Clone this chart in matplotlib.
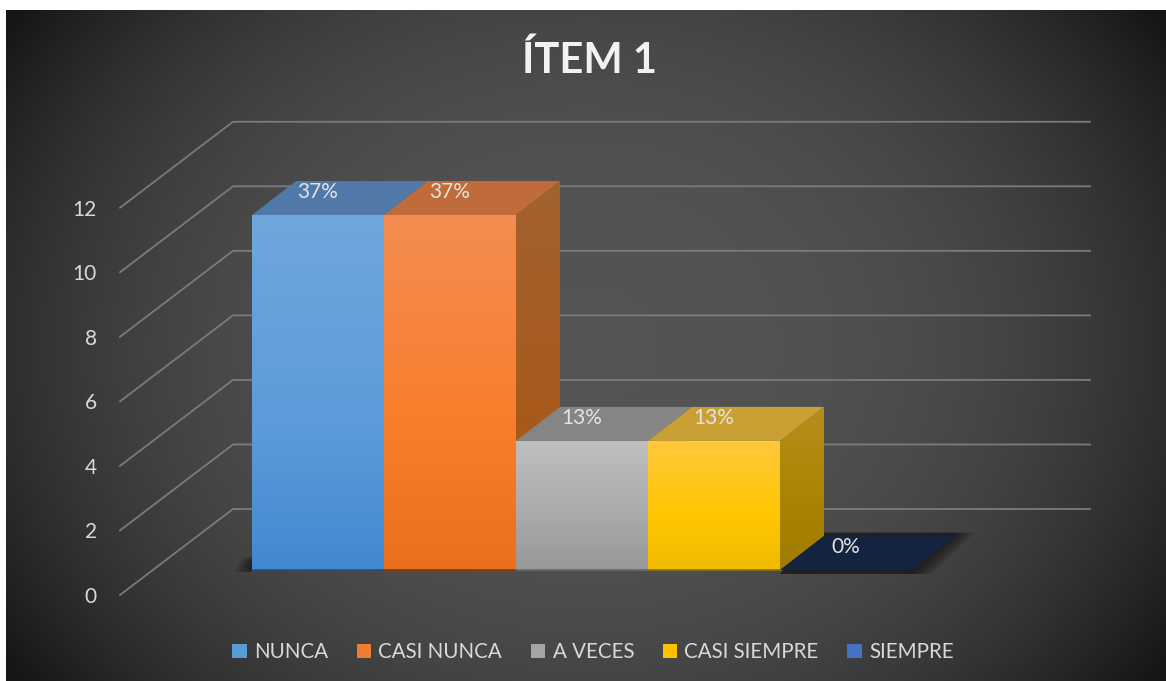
import numpy as np
import matplotlib
matplotlib.use("Agg")
import matplotlib.pyplot as plt
from matplotlib.colors import to_rgb
from matplotlib.patches import Patch, Polygon

categorias = ["NUNCA", "CASI NUNCA", "A VECES", "CASI SIEMPRE", "SIEMPRE"]
valores = [11, 11, 4, 4, 0]
porcentajes = ["37%", "37%", "13%", "13%", "0%"]
ticks_y = [0, 2, 4, 6, 8, 10, 12]

colores_leyenda = ["#5b9bd5", "#ed7d31", "#a5a5a5", "#ffc000", "#4472c4"]
# frente: arriba, medio, abajo
frente = [("#70a6de", "#5b9bd9", "#4389cf"), ("#f38d50", "#f97d2b", "#ea701d"),
          ("#bfbfbf", "#a9a9a9", "#989898"), ("#ffc83c", "#ffc600", "#efbb00"), None]
tapa = ["#5079a8", "#bf6c3a", "#858585", "#c9a033", "#14233f"]
lado = [("#47698f", "#40607f", "#335273"), ("#a3622f", "#a85a1c", "#a5530f"),
        ("#6e6e6e", "#666666", "#606060"), ("#b58f1c", "#a98300", "#a07c00"), None]

plt.rcParams["font.family"] = ["Lato", "DejaVu Sans"]

fig = plt.figure(figsize=(11.66, 6.81), dpi=100, facecolor="white")
ax = fig.add_axes([0, 0, 1, 1])
ax.axis("off")

# una categoria = 132 px, una unidad = 32.27 px
ux, uy = 132, 32.27
xmin, xmax = -252 / ux, (1166 - 252) / ux
ymin, ymax = -111 / uy, 570 / uy
prof_x, prof_y = 44 / ux, 34 / uy


def degradado(verts, c1, c2, c3, z):
    verts = np.array(verts)
    t = np.linspace(0, 1, 64)
    stops = np.array([to_rgb(c1), to_rgb(c2), to_rgb(c3)])
    img = np.column_stack([np.interp(t, [0, 0.6, 1], stops[:, k]) for k in range(3)])
    extent = [verts[:, 0].min(), verts[:, 0].max(), verts[:, 1].min(), verts[:, 1].max()]
    im = ax.imshow(img[:, None, :], extent=extent, aspect="auto", zorder=z, interpolation="bilinear")
    p = Polygon(verts, closed=True, transform=ax.transData, fc="none", ec="none")
    ax.add_patch(p)
    im.set_clip_path(p)


# fondo oscuro, mas claro al centro
px = np.linspace(-1, 1, 400)
py = np.linspace(-1, 1, 240)
gx, gy = np.meshgrid(px, py)
r = np.clip(np.sqrt(gx**2 + 0.5 * gy**2), 0, 1.2)
gris = 0.33 - 0.15 * r**2.6
fondo = np.dstack([gris, gris, gris])
ax.imshow(fondo, extent=[(6 - 252) / ux, xmax, ymin, (570 - 10) / uy], aspect="auto", zorder=0)

# rejilla en perspectiva
for v in ticks_y:
    xs = [-1, (233 - 252) / ux, (1090 - 252) / ux]
    ys = [v - 25 / uy, v + 61 / uy, v + 61 / uy]
    ax.plot(xs, ys, color="#7b7b7b", lw=1.3, zorder=1, solid_joinstyle="round")
    ax.text(-1.175, v - 27 / uy, str(v), color="#d9d9d9", fontsize=15, ha="right", va="center", zorder=6)

# sombras suaves sobre el piso
for k in range(6):
    e = k * 0.022
    ax.add_patch(Polygon([(-0.02 - e, -0.05), (0, -0.05), (0, 0.3 + k * 0.03), (-0.01 - e * 0.6, 0.2 + k * 0.03)],
                         fc="#141414", ec="none", alpha=0.16, zorder=2))
n = len(valores)
for k in range(6):
    e = k * 0.028
    ax.add_patch(Polygon([(n - 1, -0.12), (n + e, -0.12), (n + e + prof_x, prof_y + 0.1),
                          (n - 1 + prof_x, prof_y + 0.1)], fc="#141414", ec="none", alpha=0.2, zorder=2))

for i, v in enumerate(valores):
    if v > 0:
        # lado derecho
        degradado([(i + 1, 0), (i + 1 + prof_x, prof_y), (i + 1 + prof_x, v + prof_y), (i + 1, v)],
                  *lado[i], 3)
    # tapa
    ax.add_patch(Polygon([(i, v), (i + 1, v), (i + 1 + prof_x, v + prof_y), (i + prof_x, v + prof_y)],
                         fc=tapa[i], ec="none", zorder=3))
    if v > 0:
        degradado([(i, 0), (i + 1, 0), (i + 1, v), (i, v)], *frente[i], 4)
    ax.text(i + 0.5, v + 0.71, porcentajes[i], color="#e3e3e3", fontsize=15,
            ha="center", va="center", zorder=6)

# linea oscura en la base
ax.plot([0, 1], [0, 0], color="#24507f", lw=1.2, zorder=5)
ax.plot([1, 2], [0, 0], color="#7a3d10", lw=1.2, zorder=5)
ax.plot([2, 3], [0, 0], color="#6a6a6a", lw=1.2, zorder=5)
ax.plot([3, 4], [0, 0], color="#8a7410", lw=1.2, zorder=5)

ax.text((589 - 252) / ux, (570 - 60) / uy, "ÍTEM 1", color="#f2f2f2", fontsize=30,
        fontweight="bold", ha="center", va="center", zorder=6)

handles = [Patch(fc=c, ec="none") for c in colores_leyenda]
ax.legend(handles, categorias, ncol=5, loc="center", bbox_to_anchor=(593 / 1166, 1 - 652 / 681),
          frameon=False, fontsize=14.8, labelcolor="#d9d9d9", handlelength=0.7, handleheight=0.7,
          handletextpad=0.35, columnspacing=1.4)

ax.set_xlim(xmin, xmax)
ax.set_ylim(ymin, ymax)
fig.savefig("out.png", dpi=100, facecolor="white")
